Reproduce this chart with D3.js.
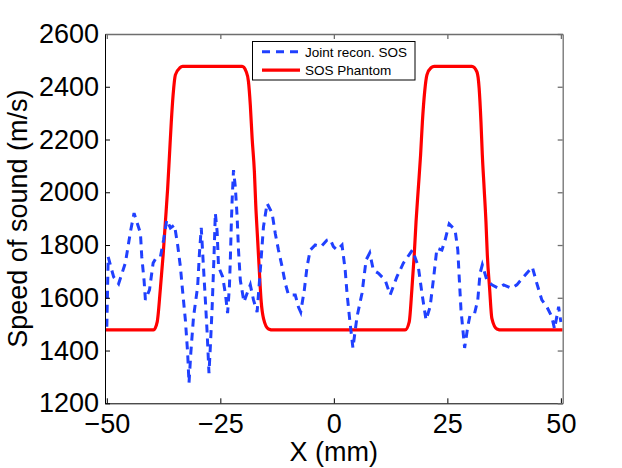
<!DOCTYPE html>
<html>
<head>
<meta charset="utf-8">
<script src="https://cdn.jsdelivr.net/npm/d3@7"></script>
<style>
  body { margin: 0; background: #fff; }
  svg { display: block; font-family: "Liberation Sans", Arial, Helvetica, sans-serif; }
</style>
</head>
<body>
<div id="chart"></div>
<script>
// tick values
var xTicks = [-50, -25, 0, 25, 50];
var yTicks = [1200, 1400, 1600, 1800, 2000, 2200, 2400, 2600];

// SOS phantom profile (red)
var phantomX = [-50.4, -39.7, -38.9, -38.2, -37.6, -37.1, -36.6, -36.2, -35.8, -35.4, -34.9, -33.9, -33.3,
  -20.2, -19.3, -18.8, -18.4, -18.0, -17.5, -17.2, -16.8, -16.4, -16.0, -15.5, -14.4, -13.3,
  15.7, 16.6, 17.2, 17.7, 18.1, 18.6, 19.1, 19.5, 20.0, 20.5, 21.4, 22.1,
  30.4, 31.5, 32.0, 32.4, 32.7, 33.1, 33.5, 33.8, 34.3, 34.8, 35.9, 37.0, 50.4];
var phantomVal = [1478, 1478, 1509, 1636, 1762, 1888, 2015, 2141, 2267, 2369, 2445, 2472, 2477,
  2477, 2457, 2419, 2331, 2205, 2078, 1952, 1825, 1699, 1585, 1522, 1482, 1478,
  1478, 1509, 1636, 1762, 1888, 2015, 2141, 2267, 2381, 2445, 2472, 2477,
  2477, 2457, 2394, 2267, 2141, 2015, 1888, 1762, 1636, 1522, 1482, 1478, 1478];

// joint reconstruction (blue dashed)
var reconX = [-50.0, -49.7, -48.5, -47.4, -45.9, -44.8, -44.0, -42.6, -42.3, -41.8,
  -41.5, -40.6, -39.8, -39.3, -38.2, -37.5, -36.8, -36.0, -35.1, -34.4,
  -33.8, -33.4, -32.7, -32.2, -31.9, -31.5, -30.9, -30.0, -29.6, -29.2,
  -28.8, -28.3, -27.9, -27.5, -27.2, -26.8, -26.4, -26.1, -25.7, -25.4,
  -24.5, -23.9, -23.4, -23.0, -22.8, -22.6, -22.4, -22.1, -21.7, -21.3,
  -21.0, -20.6, -19.8, -19.1, -18.4, -17.7, -16.9, -16.2, -15.5, -14.7,
  -13.6, -12.9, -12.2, -11.4, -10.7, -10.0, -8.5, -7.8, -7.3, -6.5,
  -5.9, -5.2, -4.1, -2.8, -1.5, -0.8, -0.1, 0.7, 1.8, 2.5,
  2.9, 3.5, 4.2, 5.1, 6.2, 7.1, 7.9, 8.7, 9.8, 11.3,
  12.4, 13.9, 15.3, 17.3, 18.6, 19.4, 20.3, 21.2, 22.0, 22.7,
  23.8, 24.5, 25.4, 26.7, 27.3, 27.6, 28.0, 28.8, 29.5, 30.0,
  31.0, 31.7, 32.2, 32.7, 33.7, 34.8, 36.3, 37.4, 39.2, 40.3,
  41.8, 43.7, 44.7, 45.8, 46.9, 48.0, 48.6, 49.5, 50.0];
var reconVal = [1490, 1755, 1679, 1653, 1733, 1850, 1921, 1845, 1755, 1667,
  1592, 1630, 1732, 1747, 1755, 1819, 1895, 1865, 1876, 1800,
  1718, 1642, 1516, 1391, 1277, 1391, 1528, 1642, 1769, 1865,
  1743, 1592, 1466, 1314, 1414, 1565, 1755, 1921, 1850, 1718,
  1680, 1617, 1542, 1642, 1743, 1869, 1971, 2084, 2021, 1907,
  1781, 1667, 1584, 1617, 1649, 1592, 1546, 1705, 1869, 1958,
  1921, 1844, 1781, 1718, 1655, 1611, 1611, 1565, 1546, 1630,
  1718, 1781, 1800, 1794, 1819, 1822, 1794, 1781, 1800, 1705,
  1617, 1516, 1410, 1528, 1617, 1743, 1770, 1705, 1693, 1667,
  1611, 1680, 1731, 1781, 1718, 1617, 1516, 1566, 1680, 1788,
  1781, 1819, 1880, 1857, 1781, 1680, 1554, 1410, 1491, 1535,
  1541, 1592, 1693, 1725, 1667, 1649, 1636, 1649, 1636, 1649,
  1680, 1717, 1655, 1592, 1566, 1528, 1482, 1566, 1508];

var width = 622, height = 468;
var plotLeft = 105, plotTop = 34, plotRight = 562.7, plotBottom = 403.3;

var svg = d3.select("#chart").append("svg")
  .attr("width", width)
  .attr("height", height);

svg.append("rect").attr("width", width).attr("height", height).attr("fill", "#fff");

var x = d3.scaleLinear().domain([-50.4, 50.4]).range([plotLeft, plotRight]);
var y = d3.scaleLinear().domain([1200, 2600]).range([plotBottom, plotTop]);

svg.append("clipPath").attr("id", "plotclip")
  .append("rect")
  .attr("x", plotLeft).attr("y", plotTop)
  .attr("width", plotRight - plotLeft).attr("height", plotBottom - plotTop);

// lines
var phantom = phantomX.map(function(d, i) { return [d, phantomVal[i]]; });
var recon = reconX.map(function(d, i) { return [d, reconVal[i]]; });

var line = d3.line()
  .x(function(d) { return x(d[0]); })
  .y(function(d) { return y(d[1]); });

var plot = svg.append("g").attr("clip-path", "url(#plotclip)");

plot.append("path")
  .attr("d", line.curve(d3.curveMonotoneX)(phantom))
  .attr("fill", "none")
  .attr("stroke", "#ff0000")
  .attr("stroke-width", 3.2)
  .attr("stroke-linejoin", "round");

plot.append("path")
  .attr("d", line.curve(d3.curveLinear)(recon))
  .attr("fill", "none")
  .attr("stroke", "#2040ff")
  .attr("stroke-width", 3)
  .attr("stroke-dasharray", "8,6");

// axes
var fs = 27;

var gx = svg.append("g")
  .attr("transform", "translate(0," + plotBottom + ")")
  .call(d3.axisBottom(x).tickValues(xTicks).tickSizeInner(-5).tickSizeOuter(0).tickPadding(10.5));
var gy = svg.append("g")
  .attr("transform", "translate(" + plotLeft + ",0)")
  .call(d3.axisLeft(y).tickValues(yTicks).tickSizeInner(-5).tickSizeOuter(0).tickPadding(6)
    .tickFormat(d3.format("d")));
var gt = svg.append("g")
  .attr("transform", "translate(0," + plotTop + ")")
  .call(d3.axisTop(x).tickValues(xTicks).tickSizeInner(-5).tickSizeOuter(0).tickFormat(""));
var gr = svg.append("g")
  .attr("transform", "translate(" + plotRight + ",0)")
  .call(d3.axisRight(y).tickValues(yTicks).tickSizeInner(-5).tickSizeOuter(0).tickFormat(""));

[gx, gy].forEach(function(g) {
  g.selectAll("path, line").attr("stroke", "#000").attr("stroke-width", 1);
  g.selectAll("text").attr("fill", "#000").style("font-size", fs + "px");
});
[gt, gr].forEach(function(g) {
  g.selectAll("path, line").attr("stroke", "#6e6e6e").attr("stroke-width", 1.3);
});

// axis titles
svg.append("text")
  .attr("x", (plotLeft + plotRight) / 2)
  .attr("y", 461)
  .attr("text-anchor", "middle")
  .style("font-size", fs + "px")
  .text("X (mm)");

svg.append("text")
  .attr("transform", "translate(27," + ((plotTop + plotBottom) / 2) + ") rotate(-90)")
  .attr("text-anchor", "middle")
  .style("font-size", fs + "px")
  .text("Speed of sound (m/s)");

// legend
var legend = svg.append("g").attr("transform", "translate(252.5,41.5)");
legend.append("rect")
  .attr("width", 162.5).attr("height", 38.5)
  .attr("fill", "#fff").attr("stroke", "#000").attr("stroke-width", 1);

var items = [
  { label: "Joint recon. SOS", color: "#2040ff", dash: "8,6", w: 3 },
  { label: "SOS Phantom", color: "#ff0000", dash: null, w: 3.2 }
];
items.forEach(function(it, i) {
  var yy = 10.3 + i * 18.3;
  legend.append("line")
    .attr("x1", 9.5).attr("x2", 47.5)
    .attr("y1", yy).attr("y2", yy)
    .attr("stroke", it.color)
    .attr("stroke-width", it.w)
    .attr("stroke-dasharray", it.dash);
  legend.append("text")
    .attr("x", 52.5).attr("y", yy + 5)
    .style("font-size", "13.5px")
    .text(it.label);
});
</script>
</body>
</html>
